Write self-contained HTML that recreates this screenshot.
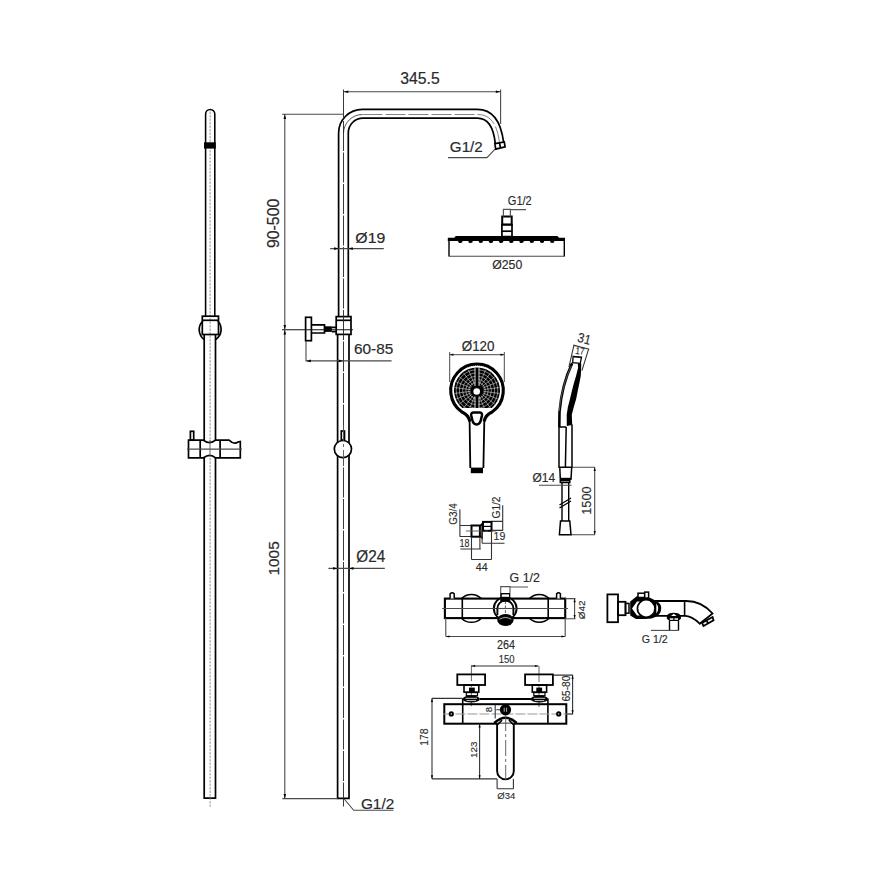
<!DOCTYPE html>
<html><head><meta charset="utf-8">
<style>
html,body{margin:0;padding:0;background:#fff;width:893px;height:893px;overflow:hidden}
svg{display:block}
text{font-family:"Liberation Sans",sans-serif}
.o{fill:none;stroke:#000;stroke-width:1.7}
.of{fill:#fff;stroke:#000;stroke-width:1.7}
.d{fill:none;stroke:#4a4a4a;stroke-width:1.1}
.c{fill:none;stroke:#555;stroke-width:0.9;stroke-dasharray:16 3 3 3}
.cd{fill:none;stroke:#222;stroke-width:0.9;stroke-dasharray:30 1.5}
.cg{fill:none;stroke:#888;stroke-width:0.85;stroke-dasharray:2.5 1}
.k{fill:#000;stroke:none}
</style></head>
<body>
<svg width="893" height="893" viewBox="0 0 893 893">

  <path class="o" d="M205.6,316 V114 A4.6,4.6 0 0 1 214.8,114 V316" style="stroke-width:1.55"/>
  <path class="o" d="M204.2,334.5 V798.2 H215.5 V334.5"/>
  <path class="cg" d="M210.1,111.5 V806.8"/>
  <rect class="k" x="204" y="142.3" width="11.8" height="6.3"/>
  <path class="o" d="M202.8,321 A12.3,12.3 0 0 0 204.1,339.5 M217.8,321 A12.3,12.3 0 0 1 215.8,339.5"/>
  <rect class="o" x="202.3" y="316.2" width="16.2" height="18.3"/>
  <path class="o" d="M202.3,320.3 H218.5"/>
  <path class="of" d="M188.5,440.2 H203.5 Q210,445 215.5,440.2 H229 Q234,445 238,442 L240.3,441.5 V457.8 H215.5 Q210,453 203.5,457.8 H188.5 Z"/>
  <path class="o" d="M200.2,440.2 V457.8 M220.1,440.2 V457.8"/>
  <path class="d" d="M187,449.1 H242"/>
  <path class="c" d="M210,440 V458"/>
  <rect class="o" x="190.4" y="431.3" width="3.3" height="8.9"/>


  <path class="o" d="M338.6,316.6 V133 A23.7,23.7 0 0 1 362.3,109.3 H477.3 C491,109.3 500.5,118 503.6,142.2"/>
  <path class="o" d="M348.3,316.6 V133 A14.7,14.7 0 0 1 363,118.1 H477.5 C486.5,118.1 493.5,126 495.3,143.7"/>
  <path class="cd" d="M343.5,133 A19,19 0 0 1 362.5,114.5" style="stroke:#444"/><path class="c" d="M362.5,114.5 H477.4 C489,114.5 497,122 499.5,143" style="stroke:#777;stroke-dasharray:20 3"/>
  <path class="o" d="M494.9,143.6 L504.3,142 L505.1,146.8 L495.7,149.1 Z M499.6,142.8 L500.4,148"/>
  <rect class="o" x="336.2" y="316.6" width="14.8" height="17.8"/>
  <path class="o" d="M336.2,320.3 H351"/>
  <path class="o" d="M337.6,334.4 V798.4 H349 V334.4"/>
  <path class="cd" d="M343.5,89.5 V806.5"/>
  <rect class="o" x="305.6" y="317.3" width="5.8" height="23.4"/>
  <path class="o" d="M311.4,324.8 H324.5 V333 H311.4"/>
  <rect class="k" x="324.5" y="326.3" width="7.4" height="5.6"/>
  <path class="o" d="M331.9,327.3 H336.2 M331.9,331.7 H336.2"/>
  <path class="d" d="M282,329.7 H353" style="stroke:#111"/>
  <circle class="of" cx="342.9" cy="449.1" r="8.6"/>
  <rect class="o" x="341.3" y="431" width="3.2" height="9"/>
  <path class="c" d="M343.5,425 V470"/>

<path class="d" d="M343.5,91.7 H500.6 M500.6,89.4 V124"/>
<path class="k" d="M343.8,91.7 l4.5,-1.3 v2.6 z"/>
<path class="k" d="M500.3,91.7 l-4.5,-1.3 v2.6 z"/>
<text transform="matrix(0.7872,0,0,0.8169,400.37,83.74)" font-size="20" fill="#2a2a2a" stroke="#2a2a2a" stroke-width="0.25">345.5</text>
<path class="d" d="M448,157.6 H487 L495,149.2"/>
<text transform="matrix(0.7603,0,0,0.7347,449.84,151.65)" font-size="20" fill="#2a2a2a" stroke="#2a2a2a" stroke-width="0.25">G1/2</text>
<path class="d" d="M282.1,114.3 H343.5 M284.8,114.3 V798.6 M282.4,798.6 H337.6"/>
<path class="k" d="M284.8,114.5 l-1.3,4.5 h2.6 z"/>
<path class="k" d="M284.8,329.5 l-1.3,-4.5 h2.6 z"/>
<path class="k" d="M284.8,329.9 l-1.3,4.5 h2.6 z"/>
<path class="k" d="M284.8,798.4 l-1.3,-4.5 h2.6 z"/>
<text transform="translate(279.33,247.91) rotate(-90) scale(0.7888,0.8521)" font-size="20" fill="#2a2a2a" stroke="#2a2a2a" stroke-width="0.25">90-500</text>
<text transform="translate(279.15,575.56) rotate(-90) scale(0.7725,0.7746)" font-size="20" fill="#2a2a2a" stroke="#2a2a2a" stroke-width="0.25">1005</text>
<path class="d" d="M330.2,248.6 H383.8"/>
<path class="k" d="M338.6,248.6 l-4.5,-1.3 v2.6 z"/>
<path class="k" d="M348.3,248.6 l4.5,-1.3 v2.6 z"/>
<text transform="matrix(0.7922,0,0,0.7718,355.37,242.61)" font-size="20" fill="#2a2a2a" stroke="#2a2a2a" stroke-width="0.25">Ø19</text>
<path class="d" d="M306,341 V361.5 M306,360.9 H391.6"/>
<path class="k" d="M306.3,360.9 l4.5,-1.3 v2.6 z"/>
<path class="k" d="M343.2,360.9 l-4.5,-1.3 v2.6 z"/>
<text transform="matrix(0.7688,0,0,0.7465,353.93,354.15)" font-size="20" fill="#2a2a2a" stroke="#2a2a2a" stroke-width="0.25">60-85</text>
<path class="d" d="M328.4,568.4 H384.8"/>
<path class="k" d="M337.6,568.4 l-4.5,-1.3 v2.6 z"/>
<path class="k" d="M349,568.4 l4.5,-1.3 v2.6 z"/>
<text transform="matrix(0.7665,0,0,0.8188,356.29,561.79)" font-size="20" fill="#2a2a2a" stroke="#2a2a2a" stroke-width="0.25">Ø24</text>
<path class="d" d="M344.2,799 L353.7,810.3 H393.4"/>
<text transform="matrix(0.7676,0,0,0.7211,360.93,808.66)" font-size="20" fill="#2a2a2a" stroke="#2a2a2a" stroke-width="0.25">G1/2</text>

  <path class="k" d="M447.8,237.8 H454.3 L455.8,236 H557.4 L559,237.8 H565 V241 H447.8 Z"/>
  <path class="k" d="M458.09999999999997,240.5 a2.3,2.6 0 0 0 4.6,0 z"/><path class="k" d="M468.29999999999995,240.5 a2.3,2.6 0 0 0 4.6,0 z"/><path class="k" d="M478.49999999999994,240.5 a2.3,2.6 0 0 0 4.6,0 z"/><path class="k" d="M488.7,240.5 a2.3,2.6 0 0 0 4.6,0 z"/><path class="k" d="M498.9,240.5 a2.3,2.6 0 0 0 4.6,0 z"/><path class="k" d="M509.09999999999997,240.5 a2.3,2.6 0 0 0 4.6,0 z"/><path class="k" d="M519.3000000000001,240.5 a2.3,2.6 0 0 0 4.6,0 z"/><path class="k" d="M529.5,240.5 a2.3,2.6 0 0 0 4.6,0 z"/><path class="k" d="M539.7,240.5 a2.3,2.6 0 0 0 4.6,0 z"/><path class="k" d="M549.9,240.5 a2.3,2.6 0 0 0 4.6,0 z"/>
  <path class="o" d="M449,240 V256.5 M564.3,240 V256.5" style="stroke-width:1.4"/>
  <path class="d" d="M449,256.2 H564.3"/>
  <rect class="o" x="501.9" y="224.6" width="10.1" height="12"/>
  <path class="o" d="M501.9,231.2 H512"/>
  <rect class="o" x="502.2" y="216.5" width="9.5" height="8.1" style="stroke-width:2"/>
  <path class="d" d="M503.4,216.5 V209.4 H510.4 V216.5 M510.4,209.6 H526" style="stroke:#555;stroke-width:1.2"/>

<text transform="matrix(0.5521,0,0,0.5986,507.85,204.68)" font-size="20" fill="#2a2a2a" stroke="#2a2a2a" stroke-width="0.25">G1/2</text>
<text transform="matrix(0.6152,0,0,0.6309,492.21,268.78)" font-size="20" fill="#2a2a2a" stroke="#2a2a2a" stroke-width="0.25">Ø250</text>

  <path class="d" d="M449.7,354.7 H504.1 M449.7,352 V382 M504.3,352 V382" style="stroke-width:1"/>
  <path d="M469.8,421.5 C469,416.5 466,413.8 461.9,412 A26.3,26.3 0 1 1 492.1,412 C488,413.8 485,416.5 484.2,421.5" fill="none" stroke="#000" stroke-width="3.1"/>
  <clipPath id="nzc"><path d="M462.1,408 A23,23 0 1 1 491.9,408 Z"/></clipPath>
  <path d="M462.1,408 A23,23 0 1 1 491.9,408 Z" fill="#000"/>
  <path d="M462.1,408 A23.7,23.7 0 1 1 491.9,408" fill="none" stroke="#fff" stroke-width="0.8" stroke-dasharray="1.2 0.8"/>
  <g clip-path="url(#nzc)"><circle cx="477.0" cy="390.5" r="20.8" fill="none" stroke="#fff" stroke-width="0.5"/><circle cx="477.0" cy="390.5" r="17.6" fill="none" stroke="#fff" stroke-width="0.5"/><circle cx="477.0" cy="390.5" r="14.4" fill="none" stroke="#fff" stroke-width="0.5"/><circle cx="477.0" cy="390.5" r="11.2" fill="none" stroke="#fff" stroke-width="0.5"/><circle cx="477.0" cy="390.5" r="8.2" fill="none" stroke="#fff" stroke-width="0.5"/><path d="M483.44,391.35 L499.31,393.44 M483.01,392.99 L497.79,399.11 M482.16,394.46 L494.85,404.20 M480.96,395.66 L490.70,408.35 M479.49,396.51 L485.61,411.29 M474.51,396.51 L468.39,411.29 M473.04,395.66 L463.30,408.35 M471.84,394.46 L459.15,404.20 M470.99,392.99 L456.21,399.11 M470.56,391.35 L454.69,393.44 M470.56,389.65 L454.69,387.56 M470.99,388.01 L456.21,381.89 M471.84,386.54 L459.15,376.80 M473.04,385.34 L463.30,372.65 M474.51,384.49 L468.39,369.71 M479.49,384.49 L485.61,369.71 M480.96,385.34 L490.70,372.65 M482.16,386.54 L494.85,376.80 M483.01,388.01 L497.79,381.89 M483.44,389.65 L499.31,387.56" stroke="#fff" stroke-width="0.5"/></g>
  <path d="M477,368 V386.5 M477,396.5 V408" stroke="#000" stroke-width="3.2"/><path d="M475,368 V386 M479,368 V386 M475,396.5 V408 M479,396.5 V408" stroke="#fff" stroke-width="0.8"/>
  <circle cx="476.7" cy="391.5" r="3.3" fill="#fff"/>
  <path class="o" d="M469.6,421 L470.3,468 M484.3,421 L483.4,468" style="stroke-width:1.8"/>
  <path d="M473.6,412.6 H479.6 Q482.3,412.6 482,415.2 L480.9,420 Q479.9,424.4 476.6,424.4 Q473.3,424.4 472.3,420 L471.2,415.2 Q470.9,412.6 473.6,412.6 Z" fill="#fff" stroke="#000" stroke-width="2.5"/>
  <rect class="k" x="470.8" y="467.6" width="12.2" height="5.6"/>

<path class="d" d="M449.7,354.7 h0"/>
<path class="k" d="M449.9,354.7 l3.5,-1.1 v2.2 z"/>
<path class="k" d="M504,354.7 l-3.5,-1.1 v2.2 z"/>
<text transform="matrix(0.6702,0,0,0.6980,461.76,350.65)" font-size="20" fill="#2a2a2a" stroke="#2a2a2a" stroke-width="0.25">Ø120</text>

  <path class="d" d="M573.2,345.1 L589.3,349.2 M573.9,345.4 L568.9,367 M588.6,349.1 L581.9,370.6 M573.2,356.7 L581.3,357.7" style="stroke:#333"/>
  <path class="o" d="M573.1,356.3 L581.5,357.1 L580.3,363.4 L572.7,362.6 Z" style="stroke-width:1.3"/>
  <path class="o" d="M572.2,363.1 C566,376 561,394 559.5,412 L559.3,427" style="stroke-width:2.6"/>
  <path d="M571.3,366 C565.5,378 560.5,395 559.3,411" fill="none" stroke="#aaa" stroke-width="0.5"/>
  <path class="k" d="M577.8,363.3 L581.3,363.8 L580.8,375.7 L579.3,383.5 L577.7,391.3 L576.1,399.2 L573.8,407 L571.8,414.8 L572.2,425 L566.8,426 L566.7,414.8 L567.9,407 L569.9,399.2 L571.8,391.3 L573.8,383.5 L576.1,375.7 L578.1,367.8 Z"/>
  <path class="o" d="M559,427 H566.2 M559,427 V467.3 H572 V424.5 M566.2,427 L565.4,467" style="stroke-width:1.5"/>
  <path class="d" d="M572,467.3 H595 M571,534.7 H595 M594.7,467.3 V534.7"/>
  <path class="o" d="M559.8,467.3 L560.3,479 H571 L571.7,467.3 M560.3,480.5 H569.8 V482.4 H560.3 Z" style="stroke-width:1.5"/>
  <rect class="k" x="560" y="477.8" width="11.3" height="2"/>
  <path class="o" d="M562,482.4 V521 M568.7,482.4 V521" style="stroke-width:1.4"/>
  <path class="o" d="M559.5,505 L571,498 M559.5,508 L571,501" style="stroke-width:1.3"/>
  <path class="of" d="M560.5,521 H569.8 L571,534.7 H559.4 Z" style="stroke-width:1.5"/>
  <path class="d" d="M539,485.2 H571.5"/>

<path class="k" d="M594.7,467.5 l-1.1,3.5 h2.2 z"/>
<path class="k" d="M594.7,534.5 l-1.1,-3.5 h2.2 z"/>
<text transform="translate(584.20,338.60) rotate(14) scale(0.5882,0.6761) translate(-11.00,6.90)" font-size="20" fill="#2a2a2a" stroke="#2a2a2a" stroke-width="0.25">31</text>
<text transform="translate(580.00,351.00) rotate(8) scale(0.4061,0.4928) translate(-11.35,6.90)" font-size="20" fill="#2a2a2a" stroke="#2a2a2a" stroke-width="0.25">17</text>
<text transform="matrix(0.5989,0,0,0.6376,532.42,481.68)" font-size="20" fill="#2a2a2a" stroke="#2a2a2a" stroke-width="0.25">Ø14</text>
<text transform="translate(590.97,514.76) rotate(-90) scale(0.6374,0.6268)" font-size="20" fill="#2a2a2a" stroke="#2a2a2a" stroke-width="0.25">1500</text>

  <path class="d" d="M459.9,509.3 V536.7 M459.9,525.5 H471.5 M459.9,536.5 H471.5 M502.7,505.3 V530.8 M491.5,521.4 H502.7 M491.5,530.4 H502.7" style="stroke:#333"/>
  <rect class="o" x="471.5" y="525.5" width="8.4" height="11.2" style="stroke-width:2"/>
  <path class="o" d="M479.9,526.2 L482.1,523.7 V538 L479.9,536" style="stroke-width:1.4"/>
  <rect class="o" x="483" y="521.9" width="8.5" height="8.9" style="stroke-width:2"/>
  <path class="o" d="M483,526.4 H491.5" style="stroke-width:1.2"/>
  <path class="c" d="M466,531 H496"/>
  <path class="d" d="M471.5,536.7 V559.5 M479.9,536.7 V549 M482.1,530.8 V543.2 M491.5,530.8 V559.5 M460.4,549 H480.8 M482.1,543.2 H504.5 M471.5,559.5 H491.5" style="stroke:#333"/>

<text transform="translate(456.90,524.80) rotate(-90) scale(0.4964,0.5170)" font-size="20" fill="#2a2a2a" stroke="#2a2a2a" stroke-width="0.25">G3/4</text>
<text transform="translate(499.90,518.51) rotate(-90) scale(0.5085,0.5170)" font-size="20" fill="#2a2a2a" stroke="#2a2a2a" stroke-width="0.25">G1/2</text>
<text transform="matrix(0.4472,0,0,0.5070,459.53,546.90)" font-size="20" fill="#2a2a2a" stroke="#2a2a2a" stroke-width="0.25">18</text>
<text transform="matrix(0.5303,0,0,0.5352,493.60,540.09)" font-size="20" fill="#2a2a2a" stroke="#2a2a2a" stroke-width="0.25">19</text>
<text transform="matrix(0.5308,0,0,0.5652,475.73,570.80)" font-size="20" fill="#2a2a2a" stroke="#2a2a2a" stroke-width="0.25">44</text>

  <rect class="o" x="444.9" y="598.6" width="120.3" height="19.5" style="stroke-width:2.1"/>
  <path class="o" d="M462.3,598.6 V618.1 M548.2,598.6 V618.1" style="stroke-width:1.6"/>
  <path class="o" d="M461.5,598.6 A14,14 0 0 1 481.3,598.6 M461.5,618.2 A14,14 0 0 0 481.3,618.2 M529.4,598.6 A14,14 0 0 1 549.1,598.6 M529.4,618.2 A14,14 0 0 0 549.1,618.2" style="stroke-width:1.6"/>
  <path class="of" d="M450.1,598.6 V593.8 Q452.15,591.6 454.2,593.8 V598.6" style="stroke-width:1.5"/>
  <path class="of" d="M556.6,598.6 V593.8 Q558.5,591.6 560.4,593.8 V598.6" style="stroke-width:1.5"/>
  <path class="d" d="M442.2,608.5 H568"/>
  <circle cx="505.2" cy="608.5" r="11.4" fill="#fff" stroke="#000" stroke-width="1.9"/>
  <path class="d" d="M493,608.5 H517"/>
  <path class="of" d="M497.4,615 V608.5 A8,8 0 0 1 513.4,608.5 V615" style="stroke-width:1.9"/>
  <path class="d" d="M497.4,608.5 H513.4"/>
  <path class="c" d="M505.4,601 V614" style="stroke-dasharray:3 1.5"/>
  <ellipse cx="505.4" cy="619.9" rx="8.2" ry="6" fill="#000"/>
  <path d="M499.5,619.2 Q505.4,615.8 511.3,619.2" fill="none" stroke="#fff" stroke-width="0.7"/>
  <rect class="k" x="500.2" y="593" width="10.1" height="8.6"/>
  <rect x="501.8" y="594.4" width="7.2" height="2.4" fill="#fff"/>
  <path class="d" d="M500.7,593 V586.6 H510 V593 M510,587 H528" style="stroke:#555;stroke-width:1.1"/>
  <path class="d" d="M445.8,618 V636.5 M565.2,618 V636.5 M445.8,636.5 H565.2 M565.2,598.6 H575.5 M565.2,618.7 H575.5 M574.6,598.6 V618.7"/>

<path class="k" d="M446,636.5 l3.5,-1.1 v2.2 z"/>
<path class="k" d="M565,636.5 l-3.5,-1.1 v2.2 z"/>
<path class="k" d="M574.6,598.8 l-1.1,3.5 h2.2 z"/>
<path class="k" d="M574.6,618.5 l-1.1,-3.5 h2.2 z"/>
<text transform="matrix(0.6205,0,0,0.6599,509.58,582.47)" font-size="20" fill="#2a2a2a" stroke="#2a2a2a" stroke-width="0.25">G 1/2</text>
<text transform="translate(585.06,619.20) rotate(-90) scale(0.5000,0.4765)" font-size="20" fill="#2a2a2a" stroke="#2a2a2a" stroke-width="0.25">Ø42</text>
<text transform="matrix(0.5394,0,0,0.6127,497.06,648.58)" font-size="20" fill="#2a2a2a" stroke="#2a2a2a" stroke-width="0.25">264</text>

  <rect class="o" x="607.4" y="594.4" width="10.6" height="27.8" style="stroke-width:1.8"/>
  <rect class="o" x="618" y="601.8" width="7.5" height="13.4" style="stroke-width:1.8"/>
  <rect class="o" x="625.5" y="603.4" width="3.5" height="9.8" style="stroke-width:1.5"/>
  <path class="k" d="M630.2,601.5 L636.8,596.3 Q646,594.6 655,600.3 Q661.9,603.5 661.2,608.5 Q661,614 656.5,616.5 Q652,619 645,619 L636,619 L630.2,615.6 Z"/>
  <circle cx="646.2" cy="608.5" r="7.9" fill="#fff"/>
  <path d="M639.8,601.4 L637,601.4 L632,608.5 L637,615.6 L639.8,615.6 A9.5,9.5 0 0 1 639.8,601.4 Z" fill="#fff"/>
  <path d="M656.3,603.6 Q660.2,608.5 656.3,613.4 Z" fill="#fff"/>
  <rect class="of" x="638" y="593.2" width="6.7" height="4.3" style="stroke-width:1.5"/>
  <rect class="of" x="644.7" y="592.1" width="3.9" height="5.9" style="stroke-width:1.5"/>
  <path class="o" d="M654.9,601 H686.3 C697,601 706,606 712.6,613.5 L699.7,623.7 C694,618 688,615.9 684.8,615.9 H652" style="stroke-width:1.8"/>
  <path class="o" d="M684.6,601 V616" style="stroke-width:1.6"/>
  <path class="o" d="M702,622.9 L712.6,617 L713.5,620.2 L703.5,626 Z M706.5,620.3 L708,623.3" style="stroke-width:1.8"/>
  <path class="k" d="M666.8,616 Q668,612.7 673.8,612.7 Q679.6,612.7 680.9,616 L680.9,618.8 L678.5,621 H669.5 L666.8,618.8 Z"/>
  <path d="M671,616 L673.8,613.8 L676.6,616 Z" fill="#fff"/>
  <rect x="669.8" y="618.3" width="3.5" height="1.5" fill="#fff"/><rect x="674.5" y="618.3" width="3.5" height="1.5" fill="#fff"/>
  <path class="o" d="M669.5,621 V630.4 M678.5,621 V630.4" style="stroke-width:1.4"/>
  <path class="d" d="M651,630.4 H678.7"/>

<text transform="matrix(0.5330,0,0,0.5238,641.77,643.40)" font-size="20" fill="#2a2a2a" stroke="#2a2a2a" stroke-width="0.25">G 1/2</text>

  <path class="d" d="M471.4,666 H538.5" style="stroke:#333"/>
  <path class="c" d="M471.4,665.2 V707 M539,666 V707"/>
  <rect class="o" x="457.3" y="674.4" width="27.8" height="10.6" style="stroke-width:1.8"/>
  <rect class="o" x="464" y="685" width="14.8" height="7.1" style="stroke-width:1.6"/>
  <rect class="k" x="469" y="687.6" width="5.8" height="4.5"/>
  <rect class="o" x="466.3" y="692.6" width="11.2" height="3.1" style="stroke-width:1.2"/>
  <ellipse cx="471.2" cy="699" rx="8.6" ry="3.6" fill="#000"/><path d="M465.5,698.3 H477 M466.5,700.6 H476" stroke="#fff" stroke-width="0.8"/>
  <rect class="o" x="525.1" y="674.4" width="27.8" height="10.6" style="stroke-width:1.8"/>
  <rect class="o" x="532.3" y="685" width="14.3" height="7.1" style="stroke-width:1.6"/>
  <rect class="k" x="536.3" y="687.6" width="5.8" height="4.5"/>
  <rect class="o" x="533.8" y="692.6" width="11.2" height="3.1" style="stroke-width:1.2"/>
  <ellipse cx="539.4" cy="699" rx="8.6" ry="3.6" fill="#000"/><path d="M533.7,698.3 H545.2 M534.7,700.6 H544.2" stroke="#fff" stroke-width="0.8"/>
  <path class="o" d="M479.7,699 H531.3" style="stroke-width:2.2"/>
  <rect class="o" x="444.3" y="704.2" width="122" height="19.5" style="stroke-width:2"/>
  <path class="o" d="M462.7,698.8 V723.9 M547.9,698.4 V723.5" style="stroke-width:1.6"/>
  <path class="c" d="M443.4,714 H573" style="stroke-dasharray:10 2;stroke:#999;stroke-width:1.2"/>
  <circle cx="451.3" cy="713.9" r="2.6" fill="#000"/><circle cx="451.3" cy="713.9" r="0.7" fill="#fff"/>
  <circle cx="558.7" cy="713.9" r="2.6" fill="#000"/><circle cx="558.7" cy="713.9" r="0.7" fill="#fff"/>
  <circle cx="505.5" cy="709.8" r="5.6" fill="#000"/>
  <path d="M504.2,707.8 V711.8 M506.6,707.8 V711.8" stroke="#fff" stroke-width="0.7"/>
  <path class="d" d="M495.2,704.8 V718.5 M496.3,709.8 H500.2" style="stroke:#333"/>
  <path class="of" d="M497.1,723.4 V771 A8.35,8.35 0 0 0 513.8,771 V723.4" style="stroke-width:1.9"/>
  <path class="o" d="M494.3,723 Q505.5,712.5 516.7,723" style="stroke-width:2.6"/>
  <path class="o" d="M497.8,724.5 L502,720 M513.2,724.5 L509,720" style="stroke-width:1.8"/>
  <path class="c" d="M505.7,715 V780"/>
  <path class="d" d="M431.8,698.4 H462.7 M432,698.4 V779 M432,778.9 H497.1 M479.6,723.7 V778.9 M497.1,779 V788.7 M513.4,779 V788.7 M497.1,788.7 H513.4 M552.9,675.1 H573 M566.3,714 H573 M572.6,675.1 V714" style="stroke:#333"/>

<path class="k" d="M432,698.6 l-1.1,3.5 h2.2 z"/>
<path class="k" d="M432,778.7 l-1.1,-3.5 h2.2 z"/>
<path class="k" d="M572.6,675.3 l-1.1,3.5 h2.2 z"/>
<path class="k" d="M572.6,713.8 l-1.1,-3.5 h2.2 z"/>
<path class="k" d="M479.6,723.9 l-1.1,3.5 h2.2 z"/>
<path class="k" d="M479.6,778.7 l-1.1,-3.5 h2.2 z"/>
<path class="k" d="M471.6,666 l3.5,-1.1 v2.2 z"/>
<path class="k" d="M538.4,666 l-3.5,-1.1 v2.2 z"/>
<text transform="matrix(0.4742,0,0,0.5000,498.69,662.90)" font-size="20" fill="#2a2a2a" stroke="#2a2a2a" stroke-width="0.25">150</text>
<text transform="translate(569.79,701.51) rotate(-90) scale(0.5071,0.5352)" font-size="20" fill="#2a2a2a" stroke="#2a2a2a" stroke-width="0.25">65-80</text>
<text transform="translate(428.19,745.78) rotate(-90) scale(0.5226,0.5352)" font-size="20" fill="#2a2a2a" stroke="#2a2a2a" stroke-width="0.25">178</text>
<text transform="translate(476.81,758.04) rotate(-90) scale(0.4919,0.4718)" font-size="20" fill="#2a2a2a" stroke="#2a2a2a" stroke-width="0.25">123</text>
<text transform="translate(491.90,712.23) rotate(-90) scale(0.4787,0.4930)" font-size="20" fill="#2a2a2a" stroke="#2a2a2a" stroke-width="0.25">8</text>
<text transform="matrix(0.4753,0,0,0.4564,497.32,799.17)" font-size="20" fill="#2a2a2a" stroke="#2a2a2a" stroke-width="0.25">Ø34</text>
</svg>
</body></html>
